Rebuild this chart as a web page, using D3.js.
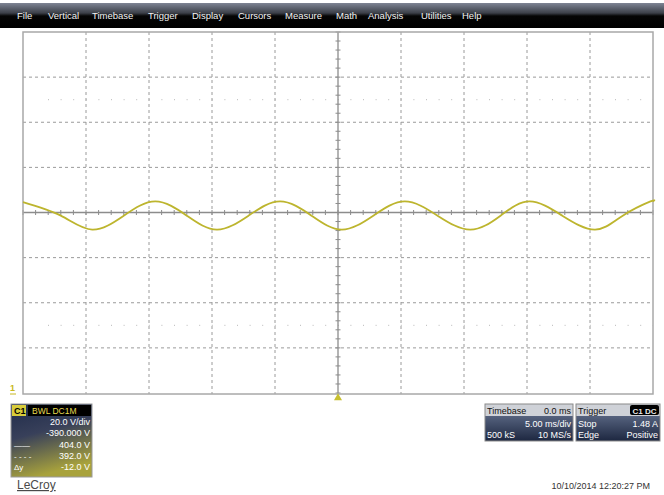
<!DOCTYPE html>
<html>
<head>
<meta charset="utf-8">
<script src="https://cdn.jsdelivr.net/npm/d3@7"></script>
<style>
  body { margin: 0; background: #fff; }
  svg { display: block; font-family: "Liberation Sans", "DejaVu Sans", sans-serif; }
</style>
</head>
<body>
<div id="scope"></div>
<script>
// menu bar labels
menuItems = ["File", "Vertical", "Timebase", "Trigger", "Display", "Cursors", "Measure", "Math", "Analysis", "Utilities", "Help"]

// waveform: time (ms), volts
waveT = [-25, -22.0, -19.5, -17.0, -14.5, -12.0, -9.6, -7.1, -4.6, -2.1, 0.3, 2.8, 5.3, 7.9, 10.5, 12.9, 15.2, 17.8, 20.4, 22.6, 24.8, 25]
waveV = [394.6, 388.6, 382.4, 388.6, 394.9, 388.6, 382.4, 388.6, 394.9, 388.6, 382.4, 388.6, 394.9, 388.6, 382.4, 388.6, 394.9, 388.6, 382.4, 388.6, 394.9, 394.9]

// settings
timePerDiv = 5      // ms
voltsPerDiv = 20
offsetV = -390
c1Rows = ["20.0 V/div", "-390.000 V", "404.0 V", "392.0 V", "-12.0 V"]
c1Marks = ["", "", "\u2014\u2014", "- - - -", "\u0394y"]
tbHeader = ["Timebase", "0.0 ms"]
tbRows = [["", "5.00 ms/div"], ["500 kS", "10 MS/s"]]
trHeader = ["Trigger", "C1 DC"]
trRows = [["Stop", "1.48 A"], ["Edge", "Positive"]]
stamp = "10/10/2014 12:20:27 PM"

W = 664, H = 495
grid = {left: 23, right: 653, top: 32, bottom: 394}

svg = d3.select("#scope").append("svg")
  .attr("width", W).attr("height", H)

defs = svg.append("defs")
mg = defs.append("linearGradient").attr("id", "menuGrad").attr("x1", 0).attr("y1", 0).attr("x2", 0).attr("y2", 1)
mg.append("stop").attr("offset", "0%").attr("stop-color", "#7e8494")
mg.append("stop").attr("offset", "40%").attr("stop-color", "#3c4049")
mg.append("stop").attr("offset", "52%").attr("stop-color", "#050505")
mg.append("stop").attr("offset", "100%").attr("stop-color", "#000")

cg = defs.append("linearGradient").attr("id", "c1Grad").attr("x1", 0).attr("y1", 0).attr("x2", 0.3).attr("y2", 1)
cg.append("stop").attr("offset", "0%").attr("stop-color", "#1f2b4a")
cg.append("stop").attr("offset", "45%").attr("stop-color", "#38405a")
cg.append("stop").attr("offset", "100%").attr("stop-color", "#a8a23c")

ng = defs.append("linearGradient").attr("id", "navyGrad").attr("x1", 0).attr("y1", 0).attr("x2", 0).attr("y2", 1)
ng.append("stop").attr("offset", "0%").attr("stop-color", "#55627e")
ng.append("stop").attr("offset", "100%").attr("stop-color", "#1d2740")

// menu bar
svg.append("rect").attr("x", 0).attr("y", 3).attr("width", W).attr("height", 25).attr("fill", "url(#menuGrad)")
menuX = [17, 48, 92, 148, 192, 238, 285, 336, 368, 421, 462]
svg.selectAll(".menu").data(menuItems).join("text")
  .attr("x", (d, i) => menuX[i]).attr("y", 19)
  .attr("fill", "#f2f2f2").style("font-size", "9.5px")
  .text(d => d)

// scales
x = d3.scaleLinear().domain([-5 * timePerDiv, 5 * timePerDiv]).range([grid.left, grid.right])
y = d3.scaleLinear().domain([-offsetV - 4 * voltsPerDiv, -offsetV + 4 * voltsPerDiv]).range([grid.bottom - 1, grid.top])

// graticule
g = svg.append("g")
xDiv = d3.range(-4, 5).map(d => d * timePerDiv)
yDiv = d3.range(-3, 4).map(d => -offsetV + d * voltsPerDiv)

g.selectAll(".vgrid").data(xDiv.filter(d => d != 0)).join("line")
  .attr("x1", d => x(d)).attr("x2", d => x(d))
  .attr("y1", grid.top).attr("y2", grid.bottom)
  .attr("stroke", "#9a9a9a").attr("stroke-width", 1).attr("stroke-dasharray", "3,3")
g.selectAll(".hgrid").data(yDiv.filter(d => d != -offsetV)).join("line")
  .attr("x1", grid.left).attr("x2", grid.right)
  .attr("y1", d => y(d)).attr("y2", d => y(d))
  .attr("stroke", "#9a9a9a").attr("stroke-width", 1).attr("stroke-dasharray", "3,3")

// faint half-division dot rows
g.selectAll(".dots").data([-offsetV + 2.5 * voltsPerDiv, -offsetV - 2.5 * voltsPerDiv]).join("line")
  .attr("x1", grid.left + 25).attr("x2", grid.right)
  .attr("y1", d => y(d)).attr("y2", d => y(d))
  .attr("stroke", "#b8b8b8").attr("stroke-width", 1).attr("stroke-dasharray", "1,11.6")

// center axes with minor ticks
g.append("line").attr("x1", grid.left).attr("x2", grid.right).attr("y1", y(-offsetV)).attr("y2", y(-offsetV))
  .attr("stroke", "#8c8c8c").attr("stroke-width", 1.3)
g.append("line").attr("x1", x(0)).attr("x2", x(0)).attr("y1", grid.top).attr("y2", grid.bottom)
  .attr("stroke", "#8c8c8c").attr("stroke-width", 1.3)
g.selectAll(".xt").data(d3.range(-25, 25.01, timePerDiv / 5)).join("line")
  .attr("x1", d => x(d)).attr("x2", d => x(d))
  .attr("y1", y(-offsetV) - 2.5).attr("y2", y(-offsetV) + 2.5)
  .attr("stroke", "#8c8c8c").attr("stroke-width", 1)
g.selectAll(".yt").data(d3.range(-offsetV - 80, -offsetV + 80.01, voltsPerDiv / 5)).join("line")
  .attr("x1", x(0) - 2.5).attr("x2", x(0) + 2.5)
  .attr("y1", d => y(d)).attr("y2", d => y(d))
  .attr("stroke", "#8c8c8c").attr("stroke-width", 1)

// frame
g.append("rect").attr("x", grid.left).attr("y", grid.top)
  .attr("width", grid.right - grid.left).attr("height", grid.bottom - grid.top)
  .attr("fill", "none").attr("stroke", "#a8a8a8").attr("stroke-width", 1.5)

// trace
wave = waveT.map((t, i) => ({t: t, v: waveV[i]}))
line = d3.line().x(d => x(d.t)).y(d => y(d.v)).curve(d3.curveNatural)
svg.append("path").datum(wave)
  .attr("d", line)
  .attr("fill", "none").attr("stroke", "#bdb52e").attr("stroke-width", 1.8)

// trigger + ground markers
svg.append("path").attr("d", d3.symbol(d3.symbolTriangle, 28)())
  .attr("transform", `translate(${x(0)}, ${grid.bottom + 4})`).attr("fill", "#c8c030")
svg.append("text").attr("x", 10).attr("y", 391).attr("fill", "#c8b820")
  .style("font-size", "9px").style("font-weight", "bold").text("1")
svg.append("line").attr("x1", 10).attr("x2", 16).attr("y1", 394).attr("y2", 394).attr("stroke", "#c8b820")

// C1 descriptor box
c1 = svg.append("g").attr("transform", "translate(11, 404)")
c1.append("rect").attr("width", 81).attr("height", 73).attr("fill", "url(#c1Grad)").attr("stroke", "#9a9a9a")
c1.append("rect").attr("x", 1).attr("y", 1).attr("width", 14).attr("height", 11).attr("fill", "#d8cc3a")
c1.append("text").attr("x", 3).attr("y", 10).attr("fill", "#000").style("font-size", "9px").style("font-weight", "bold").text("C1")
c1.append("rect").attr("x", 17).attr("y", 1).attr("width", 63).attr("height", 11).attr("fill", "#000")
c1.append("text").attr("x", 21).attr("y", 10).attr("fill", "#e8dc50").style("font-size", "8.5px").text("BWL DC1M")
c1.selectAll(".row").data(c1Rows).join("text")
  .attr("x", 79).attr("y", (d, i) => 21 + i * 11.3)
  .attr("text-anchor", "end").attr("fill", "#fff").style("font-size", "9px").text(d => d)
c1.selectAll(".mark").data(c1Marks).join("text")
  .attr("x", 3).attr("y", (d, i) => 21 + i * 11.3)
  .attr("fill", "#fff").style("font-size", "8px").text(d => d)

// timebase + trigger boxes
function infoBox(x0, w, header, rows, badge) {
  b = svg.append("g").attr("transform", `translate(${x0}, 404)`)
  b.append("rect").attr("width", w).attr("height", 12).attr("fill", "#cfd2d8")
  b.append("rect").attr("y", 12).attr("width", w).attr("height", 25).attr("fill", "url(#navyGrad)")
  b.append("rect").attr("width", w).attr("height", 37).attr("fill", "none").attr("stroke", "#8a8a8a")
  b.append("text").attr("x", 2).attr("y", 10).attr("fill", "#111").style("font-size", "9px").text(header[0])
  if (badge) {
    b.append("rect").attr("x", w - 30).attr("y", 1).attr("width", 29).attr("height", 10).attr("rx", 2).attr("fill", "#000")
    b.append("text").attr("x", w - 15.5).attr("y", 9.5).attr("text-anchor", "middle").attr("fill", "#e8e8e8")
      .style("font-size", "8px").style("font-weight", "bold").text(header[1])
  } else {
    b.append("text").attr("x", w - 2).attr("y", 10).attr("text-anchor", "end").attr("fill", "#111").style("font-size", "9px").text(header[1])
  }
  rows.forEach((r, i) => {
    b.append("text").attr("x", 2).attr("y", 23 + i * 11).attr("fill", "#fff").style("font-size", "9px").text(r[0])
    b.append("text").attr("x", w - 2).attr("y", 23 + i * 11).attr("text-anchor", "end").attr("fill", "#fff").style("font-size", "9px").text(r[1])
  })
}
infoBox(485, 88, tbHeader, tbRows, false)
infoBox(576, 84, trHeader, trRows, true)

// footer
svg.append("text").attr("x", 17).attr("y", 489).attr("fill", "#4a4a4a")
  .style("font-size", "12px").style("text-decoration", "underline").text("LeCroy")
svg.append("text").attr("x", 650).attr("y", 489).attr("text-anchor", "end").attr("fill", "#333")
  .style("font-size", "9px").text(stamp)
</script>
</body>
</html>
